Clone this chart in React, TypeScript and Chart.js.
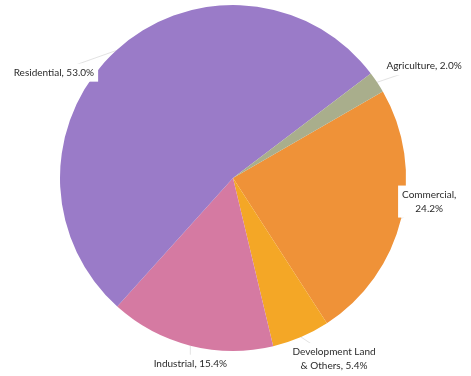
import React, { useEffect, useRef } from "react";
import { Chart, registerables } from "chart.js";

Chart.register(...registerables);

const categories = ["Commercial", "Development Land & Others", "Industrial", "Residential", "Agriculture"];
const shares = [24.2, 5.4, 15.4, 53.0, 2.0];
const labelLines: string[][] = [
  ["Commercial,", "24.2%"],
  ["Development Land", "& Others, 5.4%"],
  ["Industrial, 15.4%"],
  ["Residential, 53.0%"],
  ["Agriculture, 2.0%"],
];
const colors = ["#ef9238", "#f4a726", "#d57aa2", "#9a7bc8", "#a9ae8c"];

// label offsets (px) from each slice's outer mid-point
const labelOffsets = [
  [28, -17],
  [33, 22],
  [0, 18],
  [-62, 22],
  [47, -16],
];

const labelPlugin = {
  id: "sliceLabels",
  afterDatasetsDraw(chart: any) {
    const ctx = chart.ctx;
    const meta = chart.getDatasetMeta(0);
    ctx.save();
    ctx.font = "10px Lato, 'Open Sans', sans-serif";
    ctx.textAlign = "center";
    ctx.textBaseline = "middle";
    meta.data.forEach((arc: any, i: number) => {
      const { x, y, startAngle, endAngle, outerRadius } = arc.getProps(
        ["x", "y", "startAngle", "endAngle", "outerRadius"],
        true
      );
      const mid = (startAngle + endAngle) / 2;
      const ex = x + Math.cos(mid) * outerRadius;
      const ey = y + Math.sin(mid) * outerRadius;
      const lx = ex + labelOffsets[i][0];
      const ly = ey + labelOffsets[i][1];
      const lines = labelLines[i];
      const lh = 14;
      const w = Math.max(...lines.map((l) => ctx.measureText(l).width)) + 8;
      const h = lines.length * lh + 4;
      // leader line
      ctx.strokeStyle = "rgba(190,190,190,0.45)";
      ctx.lineWidth = 1;
      ctx.beginPath();
      ctx.moveTo(ex, ey);
      ctx.lineTo(lx, ly);
      ctx.stroke();
      ctx.fillStyle = "#ffffff";
      ctx.fillRect(lx - w / 2, ly - h / 2, w, h);
      ctx.fillStyle = "#2a2a2a";
      lines.forEach((l, k) => {
        ctx.fillText(l, lx, ly - ((lines.length - 1) * lh) / 2 + k * lh);
      });
    });
    ctx.restore();
  },
};

export default function App() {
  const ref = useRef<HTMLCanvasElement>(null);
  useEffect(() => {
    document.body.style.margin = "0";
    const chart = new Chart(ref.current as HTMLCanvasElement, {
      type: "pie",
      data: {
        labels: categories,
        datasets: [
          {
            data: shares,
            backgroundColor: colors,
            borderWidth: 0,
          },
        ],
      },
      options: {
        responsive: false,
        animation: false,
        rotation: 60,
        layout: { padding: { left: 60, right: 65, top: 5, bottom: 25 } },
        plugins: {
          legend: { display: false },
          tooltip: { enabled: false },
        },
      },
      plugins: [labelPlugin],
    });
    return () => chart.destroy();
  }, []);
  return <canvas ref={ref} width={471} height={376} style={{ display: "block" }} />;
}
